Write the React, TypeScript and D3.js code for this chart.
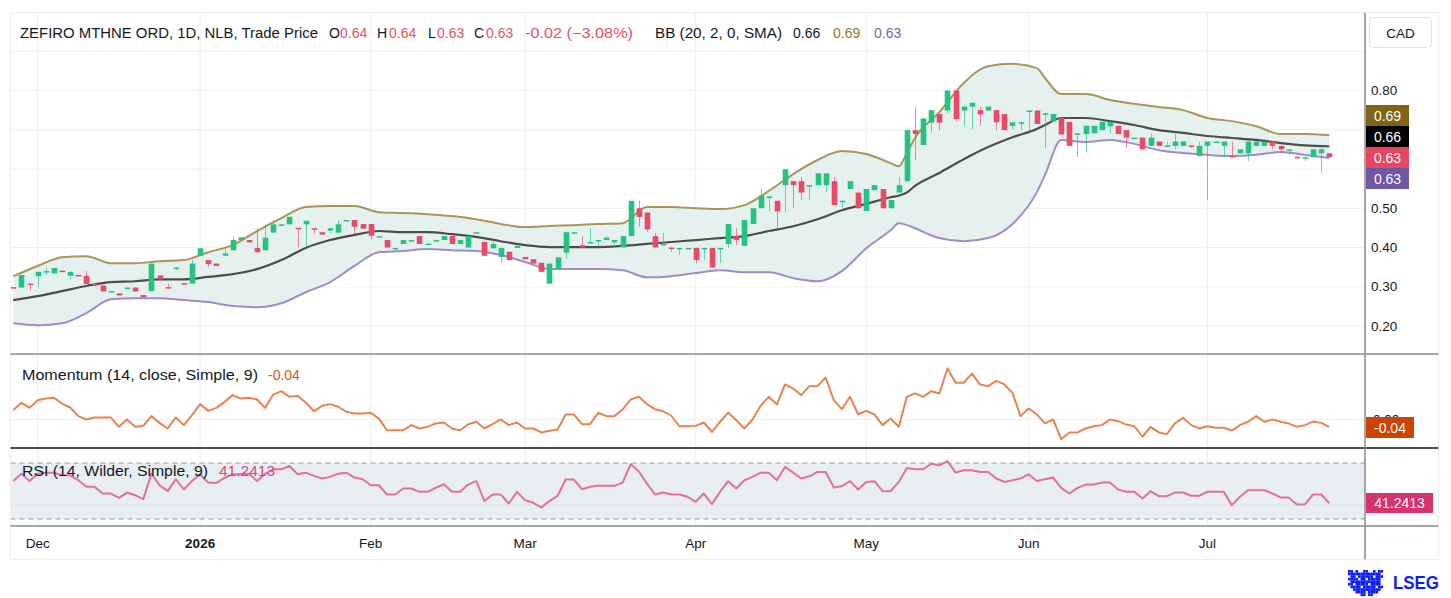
import { useEffect, useRef } from 'react';
import * as d3 from 'd3';

// daily candles, oldest first (last bar = header values)
const opens = [
  0.299, 0.298, 0.308, 0.327, 0.337, 0.334, 0.341, 0.328, 0.330, 0.328,
  0.307, 0.303, 0.288, 0.283, 0.297, 0.298, 0.279, 0.289, 0.329, 0.299,
  0.347, 0.309, 0.308, 0.379, 0.368, 0.359, 0.379, 0.393, 0.419, 0.419,
  0.399, 0.393, 0.438, 0.458, 0.459, 0.450, 0.459, 0.449, 0.439, 0.443,
  0.438, 0.469, 0.470, 0.460, 0.460, 0.428, 0.419, 0.397, 0.409, 0.418,
  0.429, 0.409, 0.418, 0.419, 0.429, 0.409, 0.400, 0.438, 0.414, 0.398,
  0.376, 0.389, 0.399, 0.376, 0.370, 0.361, 0.308, 0.344, 0.387, 0.438,
  0.406, 0.412, 0.416, 0.419, 0.413, 0.400, 0.429, 0.500, 0.489, 0.429,
  0.408, 0.400, 0.395, 0.398, 0.399, 0.396, 0.399, 0.396, 0.409, 0.429,
  0.404, 0.460, 0.500, 0.528, 0.519, 0.559, 0.569, 0.569, 0.557, 0.559,
  0.559, 0.569, 0.517, 0.549, 0.540, 0.493, 0.546, 0.549, 0.500, 0.540,
  0.569, 0.699, 0.661, 0.718, 0.740, 0.749, 0.800, 0.749, 0.759, 0.750,
  0.749, 0.750, 0.740, 0.710, 0.717, 0.747, 0.749, 0.738, 0.721, 0.731,
  0.720, 0.689, 0.689, 0.691, 0.699, 0.709, 0.710, 0.699, 0.679, 0.680,
  0.659, 0.670, 0.659, 0.659, 0.659, 0.660, 0.633, 0.659, 0.669, 0.659,
  0.633, 0.640, 0.640, 0.659, 0.659, 0.670, 0.659, 0.648, 0.631, 0.628,
  0.630, 0.640, 0.640,
];
const highs = [
  0.299, 0.330, 0.308, 0.338, 0.348, 0.348, 0.341, 0.338, 0.330, 0.340,
  0.308, 0.303, 0.289, 0.283, 0.298, 0.298, 0.279, 0.359, 0.329, 0.308,
  0.349, 0.309, 0.369, 0.398, 0.368, 0.359, 0.398, 0.429, 0.426, 0.419,
  0.449, 0.459, 0.470, 0.459, 0.478, 0.450, 0.468, 0.449, 0.439, 0.449,
  0.470, 0.470, 0.470, 0.460, 0.460, 0.429, 0.419, 0.399, 0.419, 0.419,
  0.429, 0.410, 0.419, 0.429, 0.429, 0.419, 0.429, 0.439, 0.414, 0.419,
  0.399, 0.389, 0.404, 0.376, 0.370, 0.361, 0.359, 0.375, 0.439, 0.439,
  0.429, 0.449, 0.419, 0.430, 0.419, 0.429, 0.519, 0.519, 0.489, 0.437,
  0.437, 0.400, 0.399, 0.399, 0.399, 0.399, 0.399, 0.399, 0.460, 0.449,
  0.470, 0.500, 0.550, 0.530, 0.519, 0.599, 0.569, 0.579, 0.559, 0.589,
  0.589, 0.579, 0.519, 0.569, 0.540, 0.549, 0.559, 0.549, 0.521, 0.579,
  0.699, 0.759, 0.729, 0.750, 0.740, 0.800, 0.800, 0.759, 0.769, 0.759,
  0.759, 0.750, 0.740, 0.719, 0.719, 0.749, 0.749, 0.742, 0.740, 0.731,
  0.720, 0.691, 0.710, 0.710, 0.720, 0.720, 0.710, 0.699, 0.680, 0.680,
  0.691, 0.670, 0.670, 0.691, 0.670, 0.660, 0.670, 0.670, 0.670, 0.670,
  0.670, 0.650, 0.670, 0.670, 0.670, 0.670, 0.659, 0.650, 0.631, 0.630,
  0.650, 0.659, 0.640,
];
const lows = [
  0.298, 0.298, 0.291, 0.300, 0.331, 0.334, 0.340, 0.319, 0.329, 0.307,
  0.304, 0.288, 0.288, 0.278, 0.297, 0.288, 0.273, 0.289, 0.319, 0.298,
  0.342, 0.308, 0.308, 0.379, 0.351, 0.352, 0.379, 0.393, 0.419, 0.413,
  0.388, 0.393, 0.438, 0.458, 0.459, 0.400, 0.400, 0.436, 0.433, 0.436,
  0.438, 0.469, 0.433, 0.448, 0.420, 0.428, 0.400, 0.391, 0.409, 0.418,
  0.409, 0.409, 0.418, 0.419, 0.409, 0.409, 0.400, 0.438, 0.379, 0.398,
  0.361, 0.368, 0.399, 0.370, 0.359, 0.338, 0.308, 0.344, 0.372, 0.438,
  0.400, 0.412, 0.404, 0.419, 0.400, 0.400, 0.429, 0.453, 0.440, 0.400,
  0.408, 0.389, 0.381, 0.398, 0.359, 0.369, 0.349, 0.361, 0.398, 0.406,
  0.404, 0.460, 0.500, 0.492, 0.450, 0.491, 0.501, 0.521, 0.521, 0.559,
  0.540, 0.508, 0.500, 0.549, 0.500, 0.493, 0.546, 0.500, 0.500, 0.540,
  0.569, 0.623, 0.661, 0.693, 0.699, 0.742, 0.721, 0.710, 0.701, 0.712,
  0.749, 0.699, 0.699, 0.701, 0.699, 0.699, 0.715, 0.653, 0.721, 0.688,
  0.659, 0.631, 0.642, 0.691, 0.699, 0.691, 0.689, 0.653, 0.679, 0.650,
  0.659, 0.659, 0.659, 0.651, 0.659, 0.653, 0.633, 0.521, 0.669, 0.631,
  0.630, 0.640, 0.620, 0.659, 0.659, 0.650, 0.641, 0.636, 0.630, 0.620,
  0.630, 0.590, 0.630,
];
const closes = [
  0.298, 0.330, 0.306, 0.338, 0.340, 0.348, 0.340, 0.338, 0.329, 0.307,
  0.306, 0.288, 0.289, 0.278, 0.298, 0.288, 0.273, 0.359, 0.319, 0.298,
  0.349, 0.308, 0.359, 0.398, 0.358, 0.353, 0.385, 0.419, 0.426, 0.413,
  0.388, 0.425, 0.459, 0.459, 0.478, 0.449, 0.468, 0.446, 0.433, 0.449,
  0.459, 0.470, 0.453, 0.448, 0.430, 0.429, 0.400, 0.399, 0.419, 0.419,
  0.409, 0.410, 0.419, 0.429, 0.409, 0.419, 0.429, 0.439, 0.379, 0.409,
  0.399, 0.368, 0.404, 0.370, 0.359, 0.338, 0.359, 0.375, 0.439, 0.439,
  0.400, 0.414, 0.419, 0.425, 0.419, 0.429, 0.519, 0.478, 0.446, 0.400,
  0.409, 0.398, 0.399, 0.399, 0.368, 0.399, 0.349, 0.399, 0.460, 0.419,
  0.470, 0.500, 0.532, 0.530, 0.492, 0.599, 0.559, 0.540, 0.559, 0.589,
  0.589, 0.508, 0.519, 0.569, 0.500, 0.549, 0.559, 0.500, 0.521, 0.559,
  0.699, 0.689, 0.729, 0.750, 0.718, 0.800, 0.727, 0.759, 0.769, 0.739,
  0.759, 0.719, 0.699, 0.719, 0.719, 0.749, 0.715, 0.742, 0.740, 0.688,
  0.659, 0.691, 0.710, 0.710, 0.720, 0.720, 0.689, 0.680, 0.680, 0.650,
  0.680, 0.659, 0.660, 0.670, 0.670, 0.659, 0.659, 0.670, 0.670, 0.670,
  0.630, 0.650, 0.670, 0.670, 0.670, 0.659, 0.650, 0.650, 0.630, 0.630,
  0.650, 0.650, 0.630,
];

// momentum (14) and RSI (14), one value per bar
const momentum = [
  0.050, 0.089, 0.062, 0.103, 0.112, 0.116, 0.085, 0.064, 0.018, 0.000,
  0.011, 0.011, 0.011, -0.039, 0.000, -0.039, -0.034, 0.018, -0.018, -0.048,
  0.011, -0.030, 0.023, 0.082, 0.046, 0.062, 0.094, 0.130, 0.112, 0.116,
  0.107, 0.062, 0.133, 0.151, 0.121, 0.126, 0.091, 0.044, 0.073, 0.082,
  0.068, 0.041, 0.032, 0.032, 0.036, 0.005, -0.057, -0.057, -0.057, -0.030,
  -0.048, -0.039, -0.021, -0.016, -0.048, -0.057, -0.025, -0.012, -0.048, -0.025,
  0.000, -0.030, -0.016, -0.048, -0.048, -0.069, -0.060, -0.053, 0.027, 0.027,
  -0.025, -0.025, 0.036, 0.018, 0.018, 0.053, 0.107, 0.121, 0.082, 0.055,
  0.044, 0.020, -0.036, -0.036, -0.034, -0.016, -0.066, -0.012, 0.037, -0.004,
  -0.048, 0.000, 0.073, 0.121, 0.080, 0.187, 0.165, 0.130, 0.178, 0.178,
  0.224, 0.103, 0.055, 0.121, 0.028, 0.046, 0.027, -0.030, 0.005, -0.039,
  0.121, 0.139, 0.121, 0.151, 0.139, 0.272, 0.196, 0.196, 0.245, 0.187,
  0.178, 0.206, 0.187, 0.142, 0.018, 0.059, 0.027, -0.021, 0.000, -0.105,
  -0.069, -0.069, -0.048, -0.036, -0.030, 0.000, -0.009, -0.027, -0.036, -0.092,
  -0.039, -0.069, -0.078, -0.021, 0.009, -0.030, -0.048, -0.036, -0.044, -0.044,
  -0.059, -0.030, -0.012, 0.018, -0.012, 0.000, -0.012, -0.021, -0.039, -0.030,
  -0.011, -0.018, -0.039,
];
const rsi = [
  57.2, 62.4, 57.2, 62.4, 63.1, 63.1, 61.2, 61.2, 57.7, 53.0,
  53.0, 48.2, 48.2, 45.1, 48.9, 47.0, 44.2, 62.4, 54.1, 49.9,
  58.4, 51.1, 57.2, 62.0, 56.0, 55.8, 59.3, 62.0, 62.0, 62.4,
  57.2, 62.4, 65.5, 65.5, 67.9, 62.0, 63.1, 60.8, 58.9, 60.1,
  62.4, 63.1, 59.6, 58.4, 54.1, 54.1, 47.5, 47.5, 51.8, 51.8,
  49.4, 49.4, 52.2, 54.8, 49.4, 49.4, 54.6, 57.0, 42.8, 47.5,
  47.5, 41.1, 49.4, 43.5, 41.6, 38.3, 42.8, 46.6, 58.2, 58.2,
  51.3, 53.0, 53.7, 53.7, 53.7, 56.0, 69.1, 64.1, 55.3, 47.5,
  48.9, 47.5, 47.5, 45.9, 42.3, 48.2, 40.6, 49.4, 57.0, 51.8,
  57.7, 60.1, 63.1, 63.1, 57.7, 67.2, 63.1, 58.9, 60.5, 63.6,
  63.6, 52.5, 53.4, 57.0, 51.1, 56.5, 57.0, 49.9, 49.9, 56.5,
  66.4, 65.5, 65.5, 69.5, 68.3, 71.4, 63.1, 64.8, 64.8, 63.6,
  63.6, 58.9, 56.5, 57.7, 58.9, 62.0, 57.2, 58.4, 59.6, 52.2,
  48.2, 52.2, 54.6, 54.6, 56.0, 56.0, 51.1, 49.4, 49.4, 44.7,
  49.9, 46.3, 46.3, 48.9, 48.9, 46.6, 46.6, 49.4, 49.4, 49.4,
  39.9, 45.9, 50.6, 50.6, 50.6, 48.2, 45.4, 45.4, 40.4, 40.4,
  47.5, 47.5, 41.2413,
];

// Bollinger band (20, 2) read at these bar indices
const bbIndex = [
  0, 3, 6, 9, 12, 15, 18, 21, 24, 27, 30, 33, 36, 39, 42, 45, 48, 51, 54, 57,
  60, 63, 66, 69, 72, 75, 78, 81, 84, 87, 90, 93, 96, 99, 102, 105, 108, 109, 110, 111,
  114, 117, 120, 123, 126, 127, 129, 132, 135, 138, 141, 144, 147, 150, 153, 156, 159, 162,
];
const bbUpper = [
  0.327, 0.353, 0.375, 0.378, 0.360, 0.360, 0.365, 0.368, 0.388, 0.406,
  0.442, 0.475, 0.503, 0.506, 0.506, 0.490, 0.488, 0.485, 0.480, 0.472,
  0.460, 0.452, 0.455, 0.457, 0.460, 0.462, 0.503, 0.503, 0.500, 0.498,
  0.508, 0.544, 0.587, 0.623, 0.646, 0.638, 0.615, 0.607, 0.641, 0.679,
  0.745, 0.819, 0.862, 0.868, 0.857, 0.832, 0.791, 0.791, 0.776, 0.766,
  0.758, 0.750, 0.730, 0.722, 0.709, 0.689, 0.689, 0.686,
];
const bbMiddle = [
  0.266, 0.276, 0.289, 0.302, 0.312, 0.314, 0.319, 0.319, 0.325, 0.332,
  0.345, 0.368, 0.399, 0.419, 0.432, 0.442, 0.439, 0.439, 0.434, 0.427,
  0.416, 0.406, 0.401, 0.401, 0.401, 0.404, 0.409, 0.414, 0.419, 0.424,
  0.429, 0.442, 0.454, 0.472, 0.495, 0.511, 0.528, 0.532, 0.540, 0.557,
  0.590, 0.625, 0.656, 0.681, 0.702, 0.712, 0.730, 0.730, 0.722, 0.712,
  0.699, 0.692, 0.684, 0.679, 0.674, 0.666, 0.660, 0.658,
];
const bbLower = [
  0.207, 0.202, 0.207, 0.233, 0.268, 0.271, 0.271, 0.266, 0.261, 0.251,
  0.248, 0.258, 0.286, 0.312, 0.353, 0.388, 0.391, 0.396, 0.393, 0.391,
  0.381, 0.363, 0.345, 0.345, 0.345, 0.342, 0.324, 0.327, 0.335, 0.342,
  0.337, 0.337, 0.322, 0.314, 0.340, 0.398, 0.444, 0.462, 0.457, 0.449,
  0.424, 0.416, 0.424, 0.460, 0.541, 0.585, 0.674, 0.669, 0.674, 0.664,
  0.648, 0.641, 0.636, 0.633, 0.636, 0.643, 0.636, 0.628,
];

const tickLabels = ['Dec', '2026', 'Feb', 'Mar', 'Apr', 'May', 'Jun', 'Jul'];
const tickIndex = [3, 23, 44, 63, 84, 105, 125, 147];
const gridPrices = [0.2, 0.3, 0.4, 0.5, 0.6, 0.7, 0.8, 0.9];
// 0.60 and 0.70 sit under the last-value boxes, so they are not written
const axisPrices = [0.2, 0.3, 0.4, 0.5, 0.8];

const UP = '#26c281';
const DOWN = '#ea4a66';
const TEXT = '#131722';
const FONT = "'Liberation Sans', Arial, sans-serif";

const lsegMark = [
  '11.1..11..1.11',
  '1111111111111.',
  '.11.111111.111',
  '1111.11.11111.',
  '.111111111111.',
  '11.11111.1111.',
  '.1111.11111.11',
  '..11111111111.',
  '...1111.1111..',
  '.....11.11....',
];

export default function App() {
  const svgRef = useRef<SVGSVGElement>(null);

  useEffect(() => {
    if (!svgRef.current) return;
    const svg = d3.select(svgRef.current);
    svg.selectAll('*').remove();

    const plotLeft = 10.5;
    const plotRight = 1365;
    const frameRight = 1438.5;
    const top = 12.5;
    const mainBottom = 354;
    const momBottom = 448;
    const rsiBottom = 526;
    const frameBottom = 559.5;

    const x = d3.scaleLinear().domain([0, closes.length - 1]).range([13.3, 1329.3]);
    const y = d3.scaleLinear().domain([0.2, 0.8]).range([326, 90.5]);
    const yMom = d3.scaleLinear().domain([-0.04, 0]).range([427, 419.5]);
    const yRsi = d3.scaleLinear().domain([30, 70]).range([519, 463]);

    svg.append('rect').attr('width', 1451).attr('height', 598).attr('fill', '#fff');

    const defs = svg.append('defs');
    defs
      .append('clipPath')
      .attr('id', 'clip-main')
      .append('rect')
      .attr('x', plotLeft)
      .attr('y', top)
      .attr('width', plotRight - plotLeft)
      .attr('height', mainBottom - top);
    defs
      .append('clipPath')
      .attr('id', 'clip-zero')
      .append('rect')
      .attr('x', 1366)
      .attr('y', 400)
      .attr('width', 70)
      .attr('height', 17);

    // grid
    const grid = svg.append('g').attr('stroke', '#efefef').attr('stroke-width', 1);
    tickIndex.forEach((t) => {
      grid.append('line').attr('x1', x(t)).attr('x2', x(t)).attr('y1', top).attr('y2', rsiBottom);
    });
    gridPrices.forEach((p) => {
      grid.append('line').attr('x1', plotLeft).attr('x2', plotRight).attr('y1', y(p)).attr('y2', y(p));
    });
    grid.append('line').attr('x1', plotLeft).attr('x2', plotRight).attr('y1', yMom(0)).attr('y2', yMom(0));

    // bollinger band
    const main = svg.append('g').attr('clip-path', 'url(#clip-main)');
    const ks = bbIndex.map((_, k) => k);
    const band = d3
      .area<number>()
      .x((k) => x(bbIndex[k]))
      .y0((k) => y(bbLower[k]))
      .y1((k) => y(bbUpper[k]))
      .curve(d3.curveMonotoneX);
    main.append('path').attr('d', band(ks)).attr('fill', '#e4f1ef');

    const bbLine = (vals: number[]) =>
      d3
        .line<number>()
        .x((k) => x(bbIndex[k]))
        .y((k) => y(vals[k]))
        .curve(d3.curveMonotoneX)(ks);
    main.append('path').attr('d', bbLine(bbUpper)).attr('fill', 'none').attr('stroke', '#a8965a').attr('stroke-width', 2);
    main.append('path').attr('d', bbLine(bbLower)).attr('fill', 'none').attr('stroke', '#a08cc8').attr('stroke-width', 2);
    main.append('path').attr('d', bbLine(bbMiddle)).attr('fill', 'none').attr('stroke', '#4d4d4d').attr('stroke-width', 2.2);

    // candles
    const bars = d3.range(closes.length);
    const bw = 5.6;
    const colorOf = (i: number) => (closes[i] >= opens[i] ? UP : DOWN);
    main
      .selectAll('.wick')
      .data(bars)
      .enter()
      .append('line')
      .attr('x1', (i) => Math.round(x(i)) + 0.5)
      .attr('x2', (i) => Math.round(x(i)) + 0.5)
      .attr('y1', (i) => y(highs[i]))
      .attr('y2', (i) => y(lows[i]))
      .attr('stroke', colorOf)
      .attr('stroke-opacity', 0.65)
      .attr('stroke-width', 1);
    main
      .selectAll('.body')
      .data(bars)
      .enter()
      .append('rect')
      .attr('x', (i) => Math.round(x(i)) + 0.5 - bw / 2)
      .attr('width', bw)
      .attr('y', (i) => y(Math.max(opens[i], closes[i])))
      .attr('height', (i) => Math.max(1.5, Math.abs(y(opens[i]) - y(closes[i]))))
      .attr('fill', colorOf);

    // momentum
    svg
      .append('path')
      .attr('d', d3.line<number>().x((_, i) => x(i)).y((d) => yMom(d))(momentum))
      .attr('fill', 'none')
      .attr('stroke', '#e8834e')
      .attr('stroke-width', 2)
      .attr('stroke-linejoin', 'round');

    // rsi
    svg
      .append('rect')
      .attr('x', plotLeft)
      .attr('y', yRsi(70))
      .attr('width', plotRight - plotLeft)
      .attr('height', yRsi(30) - yRsi(70))
      .attr('fill', '#e8eef3');
    svg.append('line').attr('x1', plotLeft).attr('x2', plotRight).attr('y1', yRsi(40)).attr('y2', yRsi(40)).attr('stroke', '#dde3ea');
    [70, 30].forEach((v) => {
      svg
        .append('line')
        .attr('x1', plotLeft)
        .attr('x2', plotRight)
        .attr('y1', yRsi(v))
        .attr('y2', yRsi(v))
        .attr('stroke', '#9a9a9a')
        .attr('stroke-dasharray', '5,4');
    });
    svg
      .append('path')
      .attr('d', d3.line<number>().x((_, i) => x(i)).y((d) => yRsi(d))(rsi))
      .attr('fill', 'none')
      .attr('stroke', '#e2709a')
      .attr('stroke-width', 2)
      .attr('stroke-linejoin', 'round');

    // frame and separators
    svg
      .append('rect')
      .attr('x', plotLeft)
      .attr('y', top)
      .attr('width', frameRight - plotLeft)
      .attr('height', frameBottom - top)
      .attr('fill', 'none')
      .attr('stroke', '#eeeeee');
    svg.append('line').attr('x1', plotLeft).attr('x2', frameRight).attr('y1', mainBottom).attr('y2', mainBottom).attr('stroke', '#8a8a8a').attr('stroke-width', 1.5);
    svg.append('line').attr('x1', plotLeft).attr('x2', frameRight).attr('y1', momBottom).attr('y2', momBottom).attr('stroke', '#111').attr('stroke-width', 1.3);
    svg.append('line').attr('x1', plotLeft).attr('x2', frameRight).attr('y1', rsiBottom).attr('y2', rsiBottom).attr('stroke', '#8a8a8a').attr('stroke-width', 1.5);
    svg.append('line').attr('x1', plotRight).attr('x2', plotRight).attr('y1', top).attr('y2', frameBottom).attr('stroke', '#8a8a8a').attr('stroke-width', 1.5);

    const label = (
      str: string,
      tx: number,
      ty: number,
      opts: { fill?: string; size?: number; anchor?: string; weight?: string; len?: number } = {}
    ) => {
      const t = svg
        .append('text')
        .attr('x', tx)
        .attr('y', ty)
        .attr('dominant-baseline', 'central')
        .attr('text-anchor', opts.anchor ?? 'start')
        .attr('font-family', FONT)
        .attr('font-size', opts.size ?? 14)
        .attr('font-weight', opts.weight ?? 'normal')
        .attr('fill', opts.fill ?? TEXT)
        .text(str);
      if (opts.len) t.attr('textLength', opts.len).attr('lengthAdjust', 'spacingAndGlyphs');
      return t;
    };

    // price axis
    axisPrices.forEach((p) => label(p.toFixed(2), 1371, y(p), { size: 13.5 }));
    svg
      .append('rect')
      .attr('x', 1369.5)
      .attr('y', 17.5)
      .attr('width', 62)
      .attr('height', 30)
      .attr('rx', 4)
      .attr('fill', '#fff')
      .attr('stroke', '#e0e3eb');
    label('CAD', 1400.5, 33, { anchor: 'middle', size: 13.5 });

    const priceBoxes = [
      { text: '0.69', fill: '#806515', top: 105 },
      { text: '0.66', fill: '#000000', top: 126 },
      { text: '0.63', fill: '#e8455f', top: 147 },
      { text: '0.63', fill: '#7256a6', top: 168 },
    ];
    priceBoxes.forEach((b) => {
      svg.append('rect').attr('x', 1366).attr('y', b.top).attr('width', 43).attr('height', 21).attr('fill', b.fill);
      label(b.text, 1387.5, b.top + 10.5, { anchor: 'middle', fill: '#fff', size: 14 });
    });

    // zero tick of the momentum scale only peeks out above the value box
    label('0.00', 1373, yMom(0), { size: 13.5 }).attr('clip-path', 'url(#clip-zero)');
    svg.append('rect').attr('x', 1366).attr('y', 417).attr('width', 48).attr('height', 21).attr('fill', '#cc4400');
    label('-0.04', 1390, 427.5, { anchor: 'middle', fill: '#fff', size: 14 });
    svg.append('rect').attr('x', 1366).attr('y', 493).attr('width', 67).attr('height', 20).attr('fill', '#d6336c');
    label('41.2413', 1399.5, 503, { anchor: 'middle', fill: '#fff', size: 14 });

    // time axis
    tickLabels.forEach((t, k) => label(t, x(tickIndex[k]), 543, { anchor: 'middle', size: 13.5, weight: t === '2026' ? 'bold' : 'normal' }));

    // legends
    const red = '#e8505f';
    label('ZEFIRO MTHNE ORD, 1D, NLB, Trade Price', 20, 33, { len: 298 });
    label('O', 329, 33);
    label('0.64', 340, 33, { fill: red });
    label('H', 377, 33);
    label('0.64', 389, 33, { fill: red });
    label('L', 428, 33);
    label('0.63', 437, 33, { fill: red });
    label('C', 474, 33);
    label('0.63', 486, 33, { fill: red });
    label('-0.02 (\u22123.08%)', 525, 33, { fill: red, len: 108 });
    label('BB (20, 2, 0, SMA)', 655, 33, { len: 127 });
    label('0.66', 793, 33);
    label('0.69', 833, 33, { fill: '#8c7a2b' });
    label('0.63', 874, 33, { fill: '#7b62a8' });

    label('Momentum (14, close, Simple, 9)', 22, 375, { len: 236 });
    label('-0.04', 268, 375, { fill: '#d4561c' });
    label('RSI (14, Wilder, Simple, 9)', 22, 471, { len: 186 });
    label('41.2413', 219, 471, { fill: '#e0457b', len: 56 });

    // LSEG mark
    const mark = svg.append('g').attr('fill', '#0d1ef5');
    lsegMark.forEach((row, r) => {
      row.split('').forEach((c, col) => {
        if (c === '1') mark.append('rect').attr('x', 1348 + col * 2.5).attr('y', 570 + r * 2.6).attr('width', 2.6).attr('height', 2.7);
      });
    });
    label('LSEG', 1393, 583, { fill: '#0d1ef5', size: 18, weight: 'bold', len: 46 });
  }, []);

  return (
    <div style={{ position: 'absolute', left: 0, top: 0 }}>
      <svg ref={svgRef} width={1451} height={598} style={{ display: 'block' }} />
    </div>
  );
}
